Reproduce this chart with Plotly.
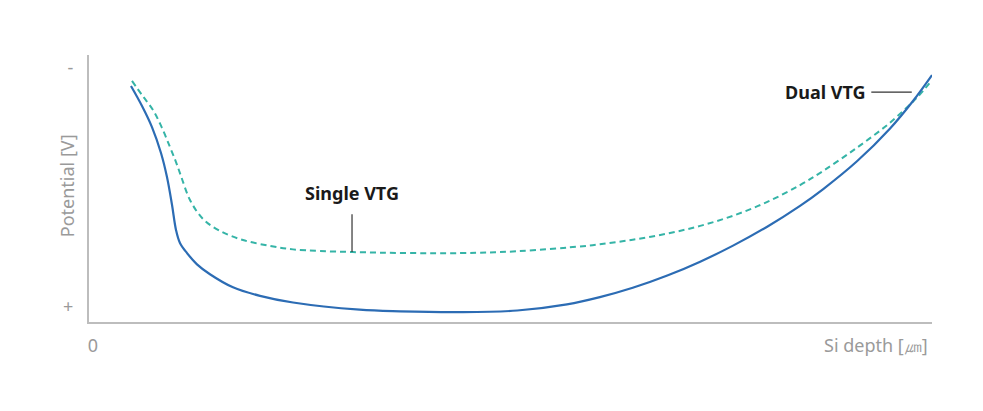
import plotly.graph_objects as go

# Data (normalized depth 0-100, potential 0(+) .. 100(-))
dual_x = [4.98, 6.29, 7.47, 8.54, 9.25, 9.85, 10.32, 10.79, 11.63, 12.81, 14.35, 17.08, 20.28, 24.2, 32.1, 36.9,
          44.0, 50.8, 56.7, 60.6, 64.5, 68.6, 72.5, 76.4, 80.4, 84.3, 87.1, 91.1, 95.0, 97.7, 100.0]
dual_y = [88.4, 80.9, 73.0, 63.3, 54.3, 43.8, 34.5, 29.6, 25.8, 21.6, 17.9, 13.0, 9.8, 7.3, 4.6, 4.0,
          3.7, 4.3, 6.6, 9.3, 12.8, 17.4, 22.6, 28.6, 35.6, 43.4, 49.8, 60.2, 72.4, 82.6, 92.5]

single_x = [5.10, 6.29, 7.59, 8.66, 9.61, 10.32, 10.91, 11.98, 13.52, 15.54, 18.27, 21.47, 24.2, 31.3, 44.0,
            50.8, 58.6, 60.6, 64.5, 68.6, 72.5, 76.4, 80.4, 84.3, 87.1, 91.1, 95.0, 98.2, 100.0]
single_y = [90.3, 85.0, 79.4, 72.7, 65.5, 59.9, 54.7, 45.7, 38.6, 34.1, 30.7, 28.5, 27.2, 26.2, 25.8,
            26.5, 28.4, 29.1, 30.8, 33.1, 36.0, 39.8, 44.9, 51.2, 56.6, 65.3, 74.6, 84.0, 90.6]

y_tickvals = [95.3, 5.6]
y_ticktext = ["-", "+"]
x_tickvals = [0]
x_ticktext = ["0"]

FONT = "Noto Sans"
GREY = "#9a9a9a"

fig = go.Figure()
fig.add_trace(go.Scatter(x=single_x, y=single_y, mode="lines",
                         line=dict(color="#35b4a7", width=2, dash="6px,4px", shape="spline", smoothing=1.0),
                         name="Single VTG", hoverinfo="skip"))
fig.add_trace(go.Scatter(x=dual_x, y=dual_y, mode="lines",
                         line=dict(color="#2c6cb4", width=2.2, shape="spline", smoothing=1.0),
                         name="Dual VTG", hoverinfo="skip"))

fig.add_annotation(x=31.2, y=48.3, xref="x", yref="y", text="<b>Single VTG</b>", showarrow=False,
                   font=dict(family=FONT, size=18, color="#1a1a1a"), xanchor="center", yanchor="middle")
fig.add_shape(type="line", x0=31.2, x1=31.2, y0=40.4, y1=26.2, xref="x", yref="y",
              line=dict(color="#333333", width=1.2))
fig.add_annotation(x=92.3, y=86.1, xref="x", yref="y", text="<b>Dual VTG</b>", showarrow=False,
                   font=dict(family=FONT, size=18, color="#1a1a1a"), xanchor="right", yanchor="middle")
fig.add_shape(type="line", x0=92.8, x1=97.6, y0=86.1, y1=86.1, xref="x", yref="y",
              line=dict(color="#333333", width=1.2))

# Axis titles
fig.add_annotation(x=0.9976, y=-0.086, xref="paper", yref="paper", text="Si depth [㎛]", showarrow=False,
                   font=dict(family=FONT, size=18, color=GREY), xanchor="right", yanchor="middle")
fig.add_annotation(x=-0.026, y=0.509, xref="paper", yref="paper", text="Potential [V]", showarrow=False,
                   textangle=-90, font=dict(family=FONT, size=18, color=GREY), xanchor="center", yanchor="middle")

fig.update_layout(
    width=975, height=403,
    margin=dict(l=81, r=51, t=47, b=89),
    paper_bgcolor="white", plot_bgcolor="white",
    showlegend=False,
    xaxis=dict(range=[0, 100], showgrid=False, zeroline=False, showline=True, linecolor="#bdbdbd", linewidth=2,
               tickvals=x_tickvals, ticktext=x_ticktext, ticks="", ticklabelshift=4, ticklabelstandoff=6,
               tickfont=dict(family=FONT, size=18, color=GREY)),
    yaxis=dict(range=[0, 100], showgrid=False, zeroline=False, showline=True, linecolor="#bdbdbd", linewidth=2,
               tickvals=y_tickvals, ticktext=y_ticktext, ticks="", ticklabelstandoff=10,
               tickfont=dict(family=FONT, size=18, color=GREY)),
)

fig.write_html("out.html")
